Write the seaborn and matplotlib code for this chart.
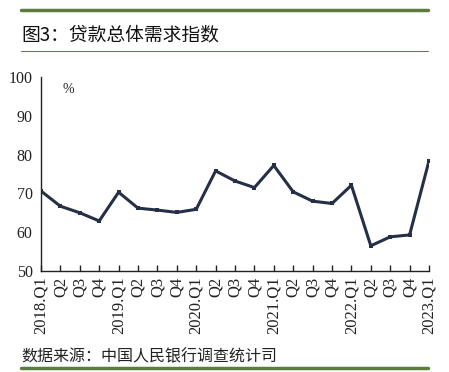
import matplotlib
matplotlib.use("Agg")
import matplotlib.pyplot as plt
import seaborn as sns
import pandas as pd
from matplotlib.lines import Line2D

# 贷款总体需求指数（季度）
quarters = ["2018.Q1", "Q2", "Q3", "Q4",
            "2019.Q1", "Q2", "Q3", "Q4",
            "2020.Q1", "Q2", "Q3", "Q4",
            "2021.Q1", "Q2", "Q3", "Q4",
            "2022.Q1", "Q2", "Q3", "Q4",
            "2023.Q1"]
values = [70.6, 66.7, 65.0, 62.9,
          70.3, 66.2, 65.7, 65.1,
          65.9, 75.8, 73.2, 71.5,
          77.2, 70.4, 68.0, 67.4,
          72.1, 56.5, 58.8, 59.3,
          78.4]
y_ticks = [50, 60, 70, 80, 90, 100]

df = pd.DataFrame({"idx": range(len(values)), "value": values})

sns.set_theme(style="white")
plt.rcParams["font.family"] = ["Noto Sans CJK SC", "DejaVu Sans"]

fig = plt.figure(figsize=(4.49, 3.72), dpi=100)
ax = fig.add_axes([41 / 449, 1 - 271 / 372, 388 / 449, 194 / 372])

sns.lineplot(data=df, x="idx", y="value", ax=ax, color="#253046",
             linewidth=2.2, marker="s", markersize=2.5,
             markeredgewidth=0)

ax.set_xlim(0, len(values) - 1)
ax.set_ylim(50, 100)
ax.set_xticks(range(len(quarters)))
ax.set_xticklabels(quarters, rotation=90, fontfamily="Liberation Serif",
                   fontsize=12, color="#222222")
ax.set_yticks(y_ticks)
ax.set_yticklabels([str(v) for v in y_ticks], fontfamily="Liberation Serif",
                   fontsize=11.5, color="#222222")
ax.set_yticks([100], minor=True)
ax.tick_params(axis="x", direction="in", length=4, width=1, color="#222222",
               pad=4, bottom=True)
ax.tick_params(axis="y", which="major", length=0, pad=6)
ax.tick_params(axis="y", which="minor", direction="in", length=4, width=1,
               color="#222222", left=True)
ax.set_xlabel("")
ax.set_ylabel("")
sns.despine(ax=ax)
for s in ["left", "bottom"]:
    ax.spines[s].set_color("#222222")
    ax.spines[s].set_linewidth(1.0)
ax.grid(False)

ax.text(0.055, 0.97, "%", transform=ax.transAxes, fontsize=10,
        fontfamily="Liberation Serif", color="#222222", va="top")

# header / footer decoration
green = "#5b7c3f"
fig.add_artist(Line2D([21 / 449, 428 / 449], [1 - 10 / 372, 1 - 10 / 372],
                      color=green, linewidth=2.5))
fig.add_artist(Line2D([21 / 449, 428 / 449], [1 - 51 / 372, 1 - 51 / 372],
                      color="#6b7a5e", linewidth=0.8))
fig.add_artist(Line2D([21 / 449, 428 / 449], [1 - 368 / 372, 1 - 368 / 372],
                      color=green, linewidth=2.5))
fig.text(21 / 449, 1 - 35 / 372, "图3：贷款总体需求指数", fontsize=13.5,
         va="center", ha="left", color="#111111")
fig.text(21 / 449, 1 - 357 / 372, "数据来源：中国人民银行调查统计司",
         fontsize=11.5, va="center", ha="left", color="#222222")

fig.savefig("out.png", dpi=100)
